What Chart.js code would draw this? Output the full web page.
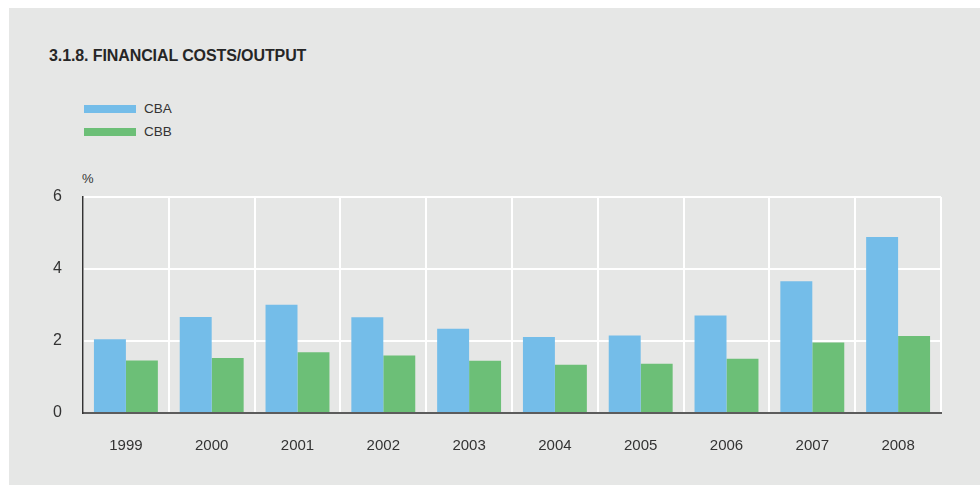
<!DOCTYPE html>
<html lang="en">
<head>
  <meta charset="UTF-8">
  <title>Financial costs/output</title>
  <script src="https://cdn.jsdelivr.net/npm/chart.js"></script>
  <style>
    body { margin: 0; background: #fff; font-family: "Liberation Sans", Arial, sans-serif; }
    #page { position: relative; width: 980px; height: 486px; overflow: hidden; }
    #panel { position: absolute; left: 9px; top: 8px; width: 971px; height: 477px; background: #e6e7e6; }
    #title { position: absolute; left: 49px; top: 47px; font-size: 16px; font-weight: bold; color: #262626; letter-spacing: -0.1px; }
    #legend { position: absolute; left: 84px; top: 97px; }
    .item { display: flex; align-items: center; height: 23px; font-size: 13.5px; color: #333; }
    .swatch { width: 52px; height: 8px; margin-right: 8px; }
    #unit { position: absolute; left: 82px; top: 171px; font-size: 13px; color: #333; }
    #wrap { position: absolute; left: 0; top: 0; width: 980px; height: 486px; }
  </style>
</head>
<body>
  <div id="page">
    <div id="panel"></div>
    <div id="title">3.1.8. FINANCIAL COSTS/OUTPUT</div>
    <div id="legend"></div>
    <div id="unit">%</div>
    <div id="wrap"><canvas id="chart"></canvas></div>
  </div>

  <script>
    const years = ["1999", "2000", "2001", "2002", "2003", "2004", "2005", "2006", "2007", "2008"];
    const cba = [2.05, 2.67, 3.01, 2.66, 2.34, 2.11, 2.15, 2.71, 3.66, 4.89];
    const cbb = [1.46, 1.53, 1.69, 1.60, 1.45, 1.34, 1.37, 1.51, 1.96, 2.14];
    const yTicks = [0, 2, 4, 6];

    const datasets = [
      { label: "CBA", data: cba, backgroundColor: "#74bde9" },
      { label: "CBB", data: cbb, backgroundColor: "#6cbf77" }
    ];

    // legend stacked vertically, like the original
    const legend = document.getElementById("legend");
    datasets.forEach(ds => {
      const row = document.createElement("div");
      row.className = "item";
      row.innerHTML = `<span class="swatch" style="background:${ds.backgroundColor}"></span>${ds.label}`;
      legend.appendChild(row);
    });

    new Chart(document.getElementById("chart"), {
      type: "bar",
      data: {
        labels: years,
        datasets: datasets.map(ds => ({ ...ds, categoryPercentage: 0.745, barPercentage: 1.0, borderWidth: 0 }))
      },
      options: {
        responsive: true,
        maintainAspectRatio: false,
        animation: false,
        layout: { padding: { top: 197, right: 39, left: 0, bottom: 0 } },
        plugins: { legend: { display: false }, tooltip: { enabled: false } },
        scales: {
          x: {
            afterFit(scale) { scale.height = 73; },
            grid: { color: "#ffffff", lineWidth: 2, drawTicks: false, offset: true },
            border: { color: "#5c5c5c", width: 2, z: 1 },
            ticks: { color: "#333", padding: 24, font: { family: "Liberation Sans", size: 15 } }
          },
          y: {
            min: 0,
            max: 6,
            afterFit(scale) { scale.width = 83; },
            afterBuildTicks(scale) { scale.ticks = yTicks.map(v => ({ value: v })); },
            grid: { color: "#ffffff", lineWidth: 2, drawTicks: false },
            border: { color: "#333", width: 1.5, z: 1 },
            ticks: { color: "#333", padding: 21, font: { family: "Liberation Sans", size: 16 } }
          }
        }
      }
    });
  </script>
</body>
</html>
